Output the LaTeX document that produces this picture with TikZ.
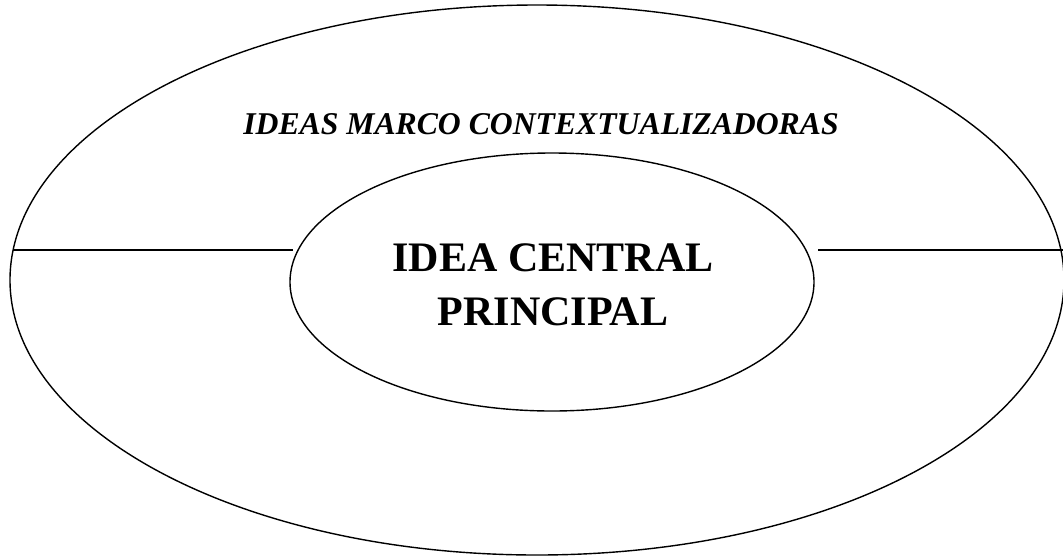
\documentclass[tikz,border=0pt]{standalone}
\usepackage{fontspec}
\setmainfont{Liberation Serif}
\usetikzlibrary{shapes.geometric}
\begin{document}
\begin{tikzpicture}[x=1pt,y=-1pt,line width=1.4pt,
  oval/.style={ellipse,draw,inner sep=0pt,outer sep=0pt}]
\useasboundingbox (0,0) rectangle (1063,558);
\node[oval,minimum width=1054pt,minimum height=550pt] (outer) at (537,280) {};
\node[oval,minimum width=524pt,minimum height=258pt] (inner) at (552,282) {};
\node[font=\bfseries\itshape\fontsize{31.7}{36}\selectfont] (marco) at (541,124) {IDEAS MARCO CONTEXTUALIZADORAS};
\node[align=center,font=\bfseries\fontsize{42}{54}\selectfont] (central) at (553,285) {IDEA CENTRAL\\PRINCIPAL};
\coordinate (la) at (13,250);
\coordinate (lb) at (293,250);
\coordinate (ra) at (818,250);
\coordinate (rb) at (1063,250);
\draw (la) -- (lb);
\draw (ra) -- (rb);
\end{tikzpicture}
\end{document}
